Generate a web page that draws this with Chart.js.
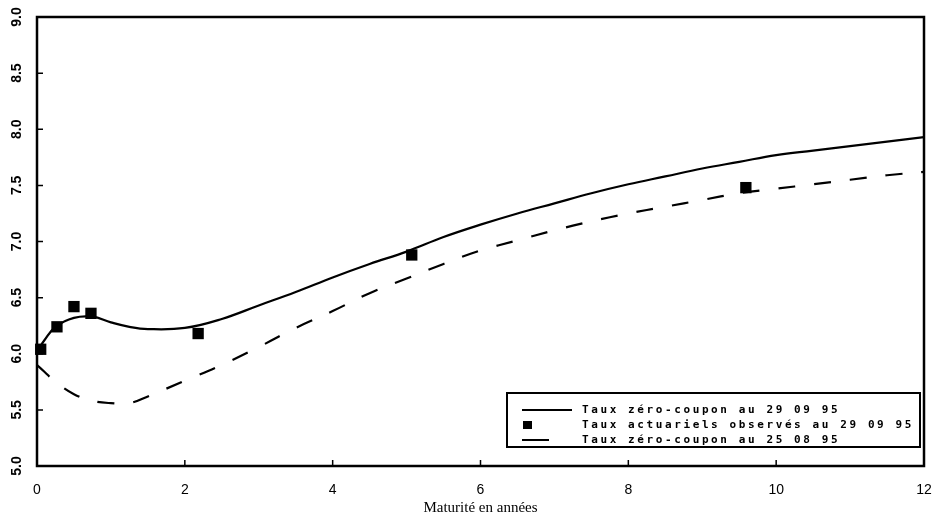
<!DOCTYPE html>
<html><head><meta charset="utf-8">
<script src="https://cdn.jsdelivr.net/npm/chart.js@4/dist/chart.umd.min.js"></script>
<style>html,body{margin:0;padding:0;background:#fff}#wrap{width:938px;height:524px}</style>
</head><body><div id="wrap"><canvas id="c" width="938" height="524"></canvas></div>
<script>
const maturities = [0, 0.1, 0.25, 0.5, 0.75, 1, 1.25, 1.5, 2, 2.5, 3, 3.5, 4, 4.5, 5, 5.5, 6, 6.5, 7, 7.5, 8, 8.5, 9, 9.5, 10, 10.5, 11, 11.5, 12];
const zeroCoupon290995 = [6.02, 6.12, 6.24, 6.32, 6.33, 6.28, 6.24, 6.22, 6.23, 6.31, 6.43, 6.55, 6.68, 6.80, 6.91, 7.04, 7.15, 7.25, 7.34, 7.43, 7.51, 7.58, 7.65, 7.71, 7.77, 7.81, 7.85, 7.89, 7.93];
const zeroCoupon250895 = [5.90, 5.84, 5.75, 5.64, 5.58, 5.56, 5.56, 5.62, 5.76, 5.90, 6.06, 6.23, 6.38, 6.54, 6.67, 6.80, 6.92, 7.01, 7.10, 7.18, 7.25, 7.31, 7.37, 7.43, 7.47, 7.51, 7.55, 7.59, 7.62];
const observedMaturities = [0.05, 0.27, 0.50, 0.73, 2.18, 5.07, 9.59];
const observedRates = [6.04, 6.24, 6.42, 6.36, 6.18, 6.88, 7.48];
const seriesLabels = ['Taux zéro-coupon au 29 09 95', 'Taux actuariels observés au 29 09 95', 'Taux zéro-coupon au 25 08 95'];
const xTickLabels = ['0', '2', '4', '6', '8', '10', '12'];
const yTickLabels = ['5.0', '5.5', '6.0', '6.5', '7.0', '7.5', '8.0', '8.5', '9.0'];
const xAxisTitle = 'Maturité en années';

const pts = (xs, ys) => xs.map((x, i) => ({x: x, y: ys[i]}));

const framePlugin = {
  id: 'frame',
  afterDatasetsDraw(chart) {
    const {ctx, chartArea: a, scales} = chart;
    const x = scales.x, y = scales.y;
    ctx.save();
    ctx.strokeStyle = '#000';
    ctx.lineWidth = 2.5;
    ctx.strokeRect(a.left, a.top, a.right - a.left, a.bottom - a.top);
    ctx.lineWidth = 1.5;
    ctx.beginPath();
    y.ticks.forEach(t => { const py = y.getPixelForValue(t.value); ctx.moveTo(a.left, py); ctx.lineTo(a.left + 6, py); });
    x.ticks.forEach(t => { const px = x.getPixelForValue(t.value); ctx.moveTo(px, a.bottom); ctx.lineTo(px, a.bottom - 6); });
    ctx.stroke();
    // rotated y tick labels
    ctx.fillStyle = '#000';
    ctx.font = 'bold 14px "Liberation Sans"';
    ctx.textAlign = 'center';
    ctx.textBaseline = 'middle';
    y.ticks.forEach((t, i) => {
      const py = y.getPixelForValue(t.value);
      ctx.save(); ctx.translate(17, py); ctx.rotate(-Math.PI / 2);
      ctx.fillText(yTickLabels[i], 0, 0); ctx.restore();
    });
    // legend box
    const bl = a.right - 417, bt = a.bottom - 73, br = a.right - 4, bb = a.bottom - 19;
    ctx.fillStyle = '#fff';
    ctx.fillRect(bl, bt, br - bl, bb - bt);
    ctx.lineWidth = 2;
    ctx.strokeRect(bl, bt, br - bl, bb - bt);
    const rows = [bt + 17, bt + 32, bt + 47];
    ctx.lineWidth = 2;
    ctx.beginPath(); ctx.moveTo(bl + 15, rows[0]); ctx.lineTo(bl + 65, rows[0]); ctx.stroke();
    ctx.fillStyle = '#000';
    ctx.fillRect(bl + 16, rows[1] - 4, 9, 8);
    ctx.beginPath(); ctx.moveTo(bl + 15, rows[2]); ctx.lineTo(bl + 42, rows[2]); ctx.stroke();
    ctx.font = 'bold 11px "DejaVu Sans Mono"';
    ctx.letterSpacing = '2.6px';
    ctx.textAlign = 'left';
    seriesLabels.forEach((s, i) => ctx.fillText(s, bl + 75, rows[i]));
    ctx.restore();
  }
};

new Chart(document.getElementById('c'), {
  type: 'scatter',
  data: {
    datasets: [
      {label: seriesLabels[0], data: pts(maturities, zeroCoupon290995), showLine: true, borderColor: '#000', borderWidth: 2.2, pointRadius: 0, tension: 0.4, order: 1},
      {label: seriesLabels[1], data: pts(observedMaturities, observedRates), showLine: false, pointStyle: 'rect', pointRadius: 8, backgroundColor: '#000', borderColor: '#000', borderWidth: 0, clip: false, order: 0},
      {label: seriesLabels[2], data: pts(maturities, zeroCoupon250895), showLine: true, borderColor: '#000', borderWidth: 2.2, borderDash: [17, 19], pointRadius: 0, tension: 0.4, order: 1}
    ]
  },
  options: {
    responsive: false,
    animation: false,
    devicePixelRatio: 1,
    layout: {padding: {top: 17, right: 14, left: 0, bottom: 0}},
    plugins: {legend: {display: false}, tooltip: {enabled: false}},
    scales: {
      x: {
        type: 'linear', min: 0, max: 12,
        afterFit: s => { s.height = 58; s.paddingLeft = 0; s.paddingRight = 0; },
        border: {display: false},
        grid: {display: false, drawTicks: false},
        ticks: {stepSize: 2, padding: 16, color: '#000', font: {family: 'Liberation Sans', size: 14},
          callback: v => xTickLabels[Math.round(v / 2)]},
        title: {display: true, text: xAxisTitle, color: '#000', font: {family: 'Liberation Serif', size: 15}, padding: {top: 7, bottom: 7}}
      },
      y: {
        type: 'linear', min: 5, max: 9,
        afterFit: s => { s.width = 37; s.paddingTop = 0; s.paddingBottom = 0; },
        border: {display: false},
        grid: {display: false, drawTicks: false},
        ticks: {stepSize: 0.5, display: false}
      }
    }
  },
  plugins: [framePlugin]
});
</script>
</body></html>
